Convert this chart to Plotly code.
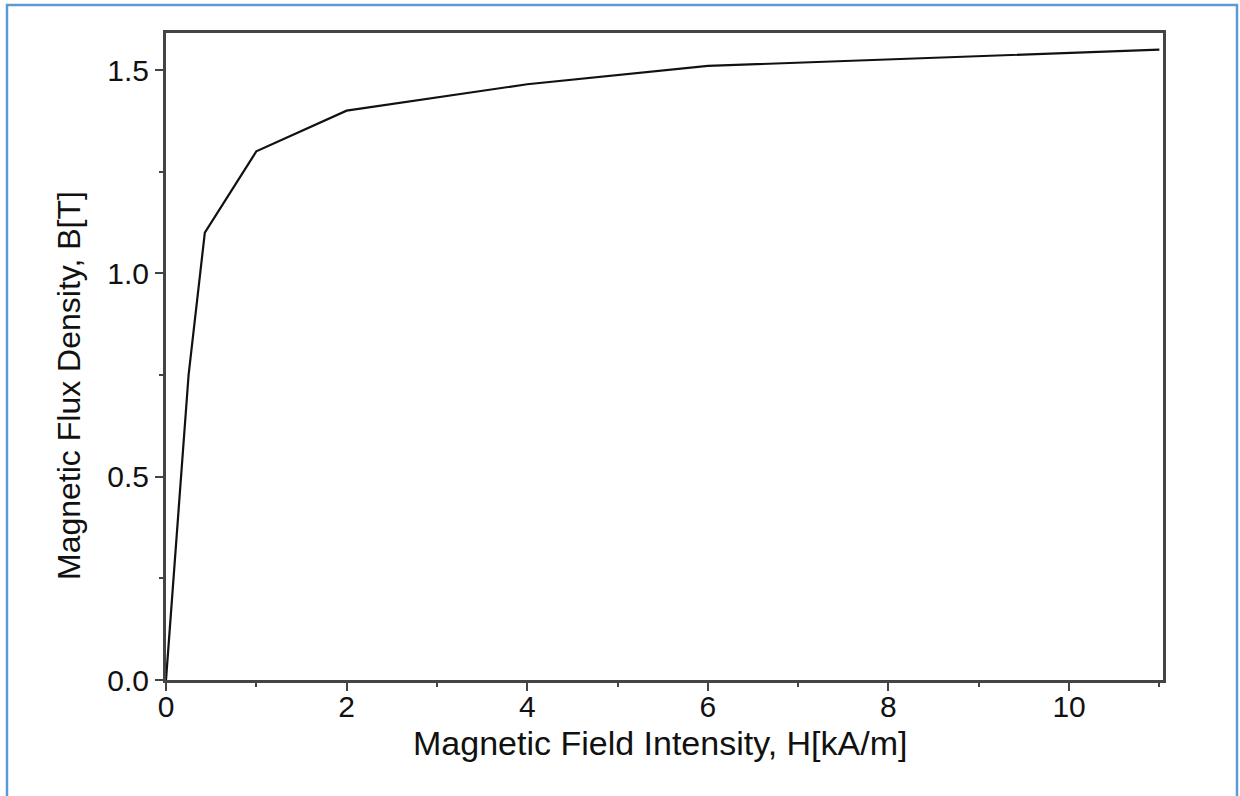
import plotly.graph_objects as go

# Data (B-H magnetization curve)
H_kA_per_m = [0, 0.25, 0.43, 1, 2, 4, 6, 11]
B_tesla = [0, 0.75, 1.10, 1.30, 1.40, 1.465, 1.51, 1.55]

x_ticks = [0, 2, 4, 6, 8, 10]
y_ticks = [0.0, 0.5, 1.0, 1.5]
y_tick_text = ["0.0", "0.5", "1.0", "1.5"]

W, Hh = 1240, 796
L, R, T, B = 166, 1163, 33, 680  # plot area in pixels


def px_x(p):
    return (p - L) / (R - L)


def px_y(p):
    return (B - p) / (B - T)


FONT = "Liberation Sans, Arial, Helvetica, sans-serif"
AXIS_COLOR = "#444444"
TXT = "#111111"

fig = go.Figure()
fig.add_trace(go.Scatter(
    x=H_kA_per_m, y=B_tesla, mode="lines",
    line=dict(color="#111111", width=2.2),
    showlegend=False, hoverinfo="skip",
))

fig.update_layout(
    width=W, height=Hh,
    margin=dict(l=L, r=W - R, t=T, b=Hh - B, pad=0),
    paper_bgcolor="white", plot_bgcolor="white",
    font=dict(family=FONT, color=TXT, size=30),
    xaxis=dict(
        range=[0, 11.04], tickvals=x_ticks, ticks="outside", ticklen=8, tickwidth=2,
        tickcolor=AXIS_COLOR, showline=True, linecolor=AXIS_COLOR, linewidth=3,
        mirror=True, showgrid=False, zeroline=False, ticklabelstandoff=-10,
        tickfont=dict(size=30, family=FONT, color=TXT),
        minor=dict(dtick=1, tick0=0, ticks="outside", ticklen=4, tickwidth=2,
                   tickcolor=AXIS_COLOR, showgrid=False),
    ),
    yaxis=dict(
        range=[0, 1.591], tickvals=y_ticks, ticktext=y_tick_text, ticks="outside",
        ticklen=8, tickwidth=2, tickcolor=AXIS_COLOR, showline=True,
        linecolor=AXIS_COLOR, linewidth=3, mirror=True, showgrid=False,
        zeroline=False, tickfont=dict(size=30, family=FONT, color=TXT),
        minor=dict(dtick=0.25, tick0=0, ticks="outside", ticklen=4, tickwidth=2,
                   tickcolor=AXIS_COLOR, showgrid=False),
    ),
    annotations=[
        dict(text="Magnetic Field Intensity, H[kA/m]", xref="paper", yref="paper",
             x=px_x(660), y=px_y(743), xanchor="center", yanchor="middle",
             showarrow=False, font=dict(size=34, family=FONT, color=TXT)),
        dict(text="Magnetic Flux Density, B[T]", xref="paper", yref="paper",
             x=px_x(69), y=px_y(386), xanchor="center", yanchor="middle",
             textangle=-90, showarrow=False,
             font=dict(size=32, family=FONT, color=TXT)),
    ],
    shapes=[
        dict(type="path", xref="paper", yref="paper",
             path=(f"M {px_x(7)},{px_y(800)} L {px_x(7)},{px_y(5)} "
                   f"L {px_x(1237)},{px_y(5)} L {px_x(1237)},{px_y(800)}"),
             line=dict(color="#5b9bd5", width=2.5), layer="above"),
    ],
)

fig.write_html("out.html")
